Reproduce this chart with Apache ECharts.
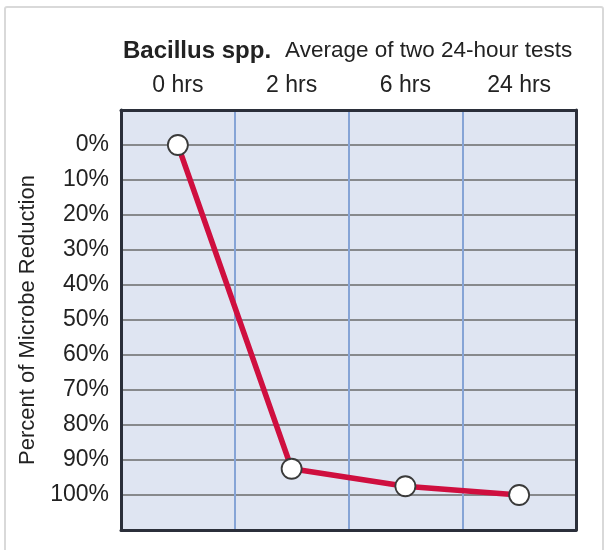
<!DOCTYPE html>
<html>
<head>
<meta charset="utf-8">
<script src="https://cdn.jsdelivr.net/npm/echarts@6/dist/echarts.min.js"></script>
<style>
  html, body { margin: 0; padding: 0; background: #fff; }
  #chart { width: 605px; height: 550px; }
</style>
</head>
<body>
<div id="chart"></div>
<script>
// data
const hours = ['0 hrs', '2 hrs', '6 hrs', '24 hrs']
const reduction = [0, 92.5, 97.5, 100]
const tickValues = [0, 10, 20, 30, 40, 50, 60, 70, 80, 90, 100]

const font = 'Liberation Sans, Arial, sans-serif'
const frame = { show: true, onZero: false, lineStyle: { color: '#2b2f3a', width: 3 } }

const chart = echarts.init(document.getElementById('chart'))

chart.setOption({
  backgroundColor: '#fff',
  animation: false,
  title: {
    left: 118,
    top: 34,
    text: '{b|Bacillus spp.}  {n|Average of two 24-hour tests}',
    textStyle: {
      rich: {
        b: { fontFamily: font, fontSize: 24, fontWeight: 'bold', color: '#222' },
        n: { fontFamily: font, fontSize: 22.5, fontWeight: 'normal', color: '#222', padding: [0, 0, 0, 4] }
      }
    }
  },
  graphic: [{
    type: 'rect',
    shape: { x: 5, y: 7, width: 598, height: 560, r: 2 },
    style: { fill: 'none', stroke: '#d9d9d9', lineWidth: 2 },
    silent: true
  }],
  grid: {
    left: 121,
    top: 110,
    width: 455,
    height: 420,
    show: true,
    backgroundColor: '#dfe5f2',
    borderWidth: 0
  },
  xAxis: [{
    type: 'category',
    position: 'top',
    data: hours,
    boundaryGap: true,
    axisLine: frame,
    axisTick: { show: false },
    axisLabel: {
      fontFamily: font,
      fontSize: 23,
      color: '#222',
      margin: 13
    },
    splitLine: {
      show: true,
      lineStyle: { color: '#86a4d6', width: 2 }
    },
    z: 2
  }, {
    type: 'category',
    position: 'bottom',
    data: hours,
    axisLine: frame,
    axisTick: { show: false },
    axisLabel: { show: false },
    splitLine: { show: false },
    z: 2
  }],
  yAxis: [{
    type: 'value',
    inverse: true,
    min: -10,
    max: 110,
    interval: 10,
    name: 'Percent of Microbe Reduction',
    nameLocation: 'middle',
    nameRotate: 90,
    nameGap: 77,
    nameTextStyle: { fontFamily: font, fontSize: 22, color: '#222' },
    axisLine: frame,
    axisTick: { show: false },
    axisLabel: {
      fontFamily: font,
      fontSize: 23,
      color: '#222',
      margin: 12,
      formatter: function(v) {
        return tickValues.indexOf(v) >= 0 ? v + '%' : ''
      }
    },
    splitLine: {
      lineStyle: { color: '#6a6a6a', width: 1.5 }
    },
    z: 2
  }, {
    type: 'value',
    inverse: true,
    min: -10,
    max: 110,
    interval: 10,
    position: 'right',
    axisLine: frame,
    axisTick: { show: false },
    axisLabel: { show: false },
    splitLine: { show: false },
    z: 2
  }],
  series: [{
    type: 'line',
    data: reduction,
    symbol: 'circle',
    symbolSize: 20,
    lineStyle: { color: '#cf0f3f', width: 5.5 },
    itemStyle: { color: '#fff', borderColor: '#3a3a3a', borderWidth: 1.8 },
    z: 3
  }]
})
</script>
</body>
</html>
